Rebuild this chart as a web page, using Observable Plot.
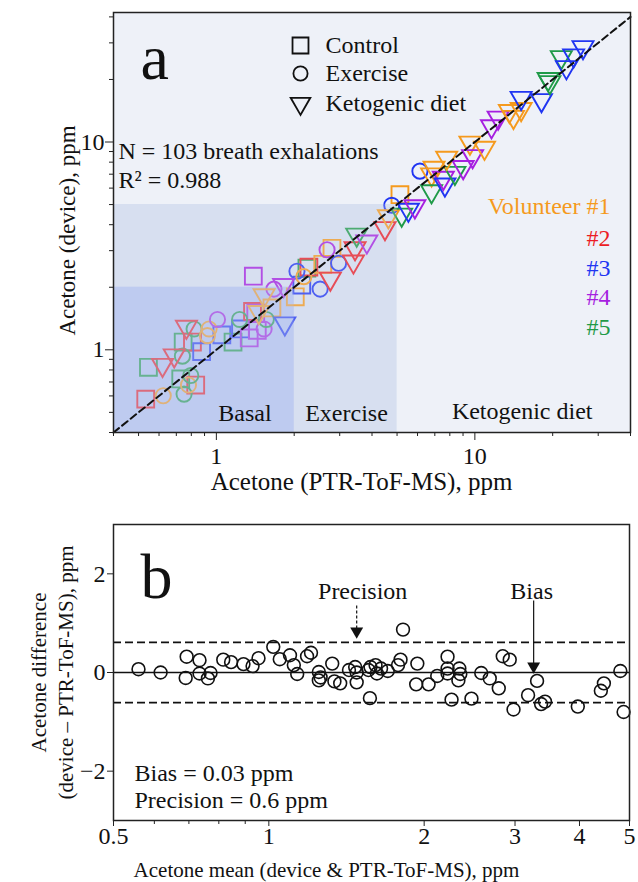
<!DOCTYPE html>
<html><head><meta charset="utf-8">
<script src="https://cdn.jsdelivr.net/npm/d3@7"></script>
<script src="https://cdn.jsdelivr.net/npm/@observablehq/plot@0.6"></script>
<style>
html,body{margin:0;padding:0;background:#fff;overflow:hidden;}
#chart{width:638px;}
#chart svg{display:block;}
</style></head><body><div id="chart"></div>
<script>
// ---------- Panel a data ----------
const volunteerLabels = ["Volunteer #1", "#2", "#3", "#4", "#5"];
const volunteerColors = ["#f59a1e", "#ec1c24", "#2035f2", "#a61fe0", "#1f9a48"];
const conditionLabels = ["Control", "Exercise", "Ketogenic diet"];
const conditionCodes = ["C", "E", "K"];
const regionNames = ["Basal", "Exercise", "Ketogenic diet"];
const regionMax = [2, 5, 40];
const regionFill = ["#b9c6f1", "#d7dff1", "#eef1f8"];

const ptrA = [0.533,0.623,0.728,0.75,0.832,0.78,0.796,0.546,0.619,0.687,0.739,0.744,0.808,0.766,0.82,0.877,0.923,0.937,1.01,1.05,
  1.16,1.23,1.24,1.34,1.38,1.42,1.44,1.53,1.56,1.46,1.53,1.67,1.64,1.39,1.82,1.84,2.02,2.05,2.18,2.14,
  2.24,2.28,2.52,2.68,2.80,2.58,2.97,2.76,3.39,3.44,3.49,3.82,4.49,4.63,4.77,5.13,5.21,5.53,5.86,6.13,
  6.80,6.95,6.80,7.55,7.66,8.37,7.78,9.01,9.57,9.80,10.9,11.6,12.3,13.6,14.1,15.1,15.1,18.1,19.5,19.2,
  21.6,22.6,24.1,26.2];
const deviceA = [0.579,0.601,0.724,0.612,0.677,0.677,0.752,0.824,0.846,0.94,0.932,1.09,1.09,1.29,1.26,0.98,1.17,1.26,1.40,1.18,
  1.09,1.40,1.26,1.14,1.53,1.50,1.24,1.26,1.40,1.52,1.83,1.96,1.59,2.26,2.05,1.34,1.80,2.39,2.25,2.05,
  2.47,2.50,1.96,3.03,3.08,2.58,2.61,2.20,2.66,3.08,3.58,3.32,3.85,4.39,4.96,5.58,4.47,4.72,4.90,7.24,
  6.98,7.51,5.79,6.72,6.24,7.10,8.40,7.57,9.93,8.55,9.38,11.9,13.1,14.1,13.2,14.4,16.3,15.9,19.4,20.1,
  25.6,22.9,26.1,28.6];
const volA = [2,1,5,5,2,1,5,5,2,2,5,5,2,2,5,3,1,1,4,3,
  5,5,3,4,2,4,4,4,5,1,1,4,1,4,4,3,1,3,1,3,
  5,2,3,4,1,1,3,2,2,2,5,4,2,1,3,1,5,3,4,3,
  1,1,5,4,3,5,1,4,1,4,1,4,4,1,1,1,3,3,5,5,
  5,3,3,3];
const condA = ["C","E","C","E","C","E","E","C","K","K","E","C","C","K","E","C","E","E","E","C",
  "C","E","C","C","C","C","C","E","E","K","K","E","C","C","K","K","C","E","E","C",
  "C","C","E","E","C","C","E","K","K","K","K","K","K","K","E","C","K","K","K","E",
  "K","K","K","K","K","K","K","K","K","K","K","K","K","K","K","K","K","K","K","K",
  "K","K","K","K"];

// ---------- Panel b data ----------
const meanB = [0.559,0.617,0.693,0.690,0.734,0.734,0.762,0.771,0.816,0.845,0.893,0.93,0.955,1.02,1.05,1.099,1.118,1.135,1.186,1.207,
  1.25,1.25,1.26,1.327,1.34,1.375,1.43,1.47,1.48,1.48,1.56,1.57,1.574,1.61,1.62,1.65,1.70,1.78,1.80,1.82,
  1.94,1.93,2.04,2.12,2.22,2.22,2.22,2.33,2.34,2.35,2.26,2.47,2.58,2.68,2.79,2.84,2.93,2.98,3.18,3.31,
  3.37,3.43,3.97,4.46,4.40,4.80,4.87];
const diffB = [0.067,0,0.32,-0.11,0.25,-0.02,-0.12,-0.01,0.26,0.21,0.17,0.13,0.29,0.52,0.27,0.35,0.15,-0.03,0.33,0.40,
  0.01,-0.16,-0.10,0.18,-0.18,-0.22,0.05,0.11,0,-0.20,0.05,-0.52,0.11,0.15,-0.02,0.08,0.03,0.15,0.26,0.87,
  0.18,-0.24,-0.24,-0.07,0.32,0.08,-0.02,-0.16,0.08,-0.03,-0.55,-0.53,-0.01,-0.12,-0.32,0.33,0.26,-0.75,-0.46,-0.17,
  -0.64,-0.59,-0.69,-0.22,-0.37,0.03,-0.80];
const levelValues = [0.61, 0, -0.61];
const levelDash = ["8,4", null, "8,4"];
const biasText = "Bias = 0.03 ppm";
const precisionText = "Precision = 0.6 ppm";
const precisionArrowX = 1.48;
const biasArrowX = 3.26;

// ---------- build ----------
const FONT = "'Liberation Serif', 'Times New Roman', serif";
const dataA = ptrA.map((x, i) => ({x, y: deviceA[i], vol: volA[i], cond: condA[i]}));
const symbolSpec = {C: {symbol: "square", r: 9.5, rotate: 0}, E: {symbol: "circle", r: 7.6, rotate: 0}, K: {symbol: "triangle", r: 7.8, rotate: 180}};

const minorA = [0.4,0.5,0.6,0.7,0.8,0.9,2,3,4,5,6,7,8,9,20,30,40];
const fmtNum = d => (d < 0 ? "\u2212" : "") + String(Math.abs(d));

const regionRects = [2, 1, 0].map(i => Plot.rect([0], {x1: 0.4, x2: regionMax[i], y1: 0.4, y2: i === 2 ? 42 : regionMax[i], fill: regionFill[i]}));
const regionOverlay = [1, 0].map(i => Plot.rect([0], {x1: 0.4, x2: regionMax[i], y1: 0.4, y2: regionMax[i], fill: regionFill[i], fillOpacity: 0.25}));
const dotMarks = conditionCodes.map(c => Plot.dot(dataA.filter(d => d.cond === c), {
  x: "x", y: "y", stroke: "vol", fill: "none", strokeWidth: 1.9,
  symbol: symbolSpec[c].symbol, r: symbolSpec[c].r, rotate: symbolSpec[c].rotate
}));
const legendDy = [33, 61, 91];
const legendMarks = conditionCodes.flatMap((c, i) => [
  Plot.dot([0], {frameAnchor: "top-left", dx: 187, dy: legendDy[i], symbol: symbolSpec[c].symbol, r: symbolSpec[c].r - 0.5, rotate: symbolSpec[c].rotate, stroke: "#111", fill: "none", strokeWidth: 1.8}),
  Plot.text([conditionLabels[i]], {frameAnchor: "top-left", dx: 212, dy: legendDy[i], text: d => d, textAnchor: "start", lineAnchor: "middle", fill: "#111"})
]);
const volDy = [201, 233, 263, 292, 322];
const volMarks = volunteerLabels.map((v, i) => Plot.text([v], {frameAnchor: "top-right", dx: -20, dy: volDy[i], text: d => d, textAnchor: "end", lineAnchor: "bottom", fill: volunteerColors[i]}));
const regionDx = [131.5, 233, 408.7];
const regionDy = [-12, -12, -14];
const regionText = regionNames.map((n, i) => Plot.text([n], {frameAnchor: "bottom-left", dx: regionDx[i], dy: regionDy[i], text: d => d, textAnchor: "middle", lineAnchor: "bottom", fill: "#111"}));

const plotA = Plot.plot({
  width: 638, height: 500,
  marginLeft: 113, marginRight: 8, marginTop: 12, marginBottom: 68,
  style: {fontFamily: FONT, fontSize: "24px", background: "#fff", overflow: "visible", color: "#111"},
  x: {type: "log", domain: [0.4, 40]},
  y: {type: "log", domain: [0.4, 42]},
  color: {domain: [1, 2, 3, 4, 5], range: volunteerColors},
  marks: [
    ...regionRects,
    ...dotMarks,
    ...regionOverlay,
    Plot.line([0.4, 40], {x: d => d, y: d => d, stroke: "#111", strokeWidth: 2, strokeDasharray: "7,4"}),
    Plot.axisX({ticks: [1, 10], tickFormat: d => String(d), tickSize: 8, tickPadding: 6, label: null, fontSize: 24, stroke: "#222"}),
    Plot.axisX({ticks: minorA, tickFormat: () => "", tickSize: 4, label: null, stroke: "#222"}),
    Plot.axisY({ticks: [1, 10], tickFormat: d => String(d), tickSize: 8, tickPadding: 1, label: null, fontSize: 24, stroke: "#222"}),
    Plot.axisY({ticks: minorA, tickFormat: () => "", tickSize: 4, label: null, stroke: "#222"}),
    Plot.frame({stroke: "#222", strokeWidth: 1.5}),
    Plot.text(["a"], {frameAnchor: "top-left", dx: 27, dy: 66, text: d => d, fontSize: 64, textAnchor: "start", lineAnchor: "bottom", fill: "#111"}),
    ...legendMarks,
    Plot.text(["N = 103 breath exhalations"], {frameAnchor: "top-left", dx: 5, dy: 146, text: d => d, textAnchor: "start", lineAnchor: "bottom", fill: "#111"}),
    Plot.text(["R\u00b2 = 0.988"], {frameAnchor: "top-left", dx: 5, dy: 175, text: d => d, textAnchor: "start", lineAnchor: "bottom", fill: "#111"}),
    ...volMarks,
    ...regionText,
    Plot.text(["Acetone (PTR-ToF-MS), ppm"], {frameAnchor: "bottom-left", dx: 248, dy: 57, text: d => d, fontSize: 25, textAnchor: "middle", lineAnchor: "bottom", fill: "#111"}),
    Plot.text(["Acetone (device), ppm"], {frameAnchor: "left", dx: -39, dy: 8, rotate: -90, text: d => d, fontSize: 23, textAnchor: "middle", lineAnchor: "bottom", fill: "#111"})
  ]
});

const dataB = meanB.map((x, i) => ({x, y: diffB[i]}));
const plotB = Plot.plot({
  width: 638, height: 382,
  marginLeft: 113, marginRight: 9, marginTop: 24, marginBottom: 62,
  style: {fontFamily: FONT, fontSize: "24px", background: "#fff", overflow: "visible", color: "#111"},
  x: {type: "log", domain: [0.5, 5]},
  y: {domain: [-3, 3]},
  marks: [
    ...levelValues.map((v, i) => Plot.ruleY([v], {stroke: "#111", strokeWidth: 1.6, strokeDasharray: levelDash[i]})),
    Plot.dot(dataB, {x: "x", y: "y", r: 6.4, stroke: "#111", fill: "none", strokeWidth: 1.6}),
    // precision arrow (dashed)
    Plot.link([0], {x1: precisionArrowX, x2: precisionArrowX, y1: 1.36, y2: 0.84, stroke: "#111", strokeWidth: 1.2, strokeDasharray: "3,2"}),
    Plot.dot([0], {x: precisionArrowX, y: 0.834, symbol: "triangle", rotate: 180, r: 4.8, fill: "#111", stroke: "none"}),
    // bias arrow (solid)
    Plot.link([0], {x1: biasArrowX, x2: biasArrowX, y1: 1.46, y2: 0.13, stroke: "#111", strokeWidth: 1.2}),
    Plot.dot([0], {x: biasArrowX, y: 0.127, symbol: "triangle", rotate: 180, r: 4.8, fill: "#111", stroke: "none"}),
    Plot.axisX({ticks: [0.5, 1, 2, 3, 4, 5], tickFormat: d => String(d), tickSize: 6, tickPadding: 0, label: null, fontSize: 24, stroke: "#222"}),
    Plot.axisX({ticks: [0.6, 0.7, 0.8, 0.9], tickFormat: () => "", tickSize: 4, label: null, stroke: "#222"}),
    Plot.axisY({ticks: [-2, 0, 2], tickFormat: fmtNum, tickSize: 6, tickPadding: 2, label: null, fontSize: 24, stroke: "#222"}),
    Plot.frame({stroke: "#222", strokeWidth: 1.5}),
    Plot.text(["b"], {frameAnchor: "top-left", dx: 27, dy: 73, text: d => d, fontSize: 64, textAnchor: "start", lineAnchor: "bottom", fill: "#111"}),
    Plot.text(["Precision"], {x: precisionArrowX, frameAnchor: "top", dx: 6, dy: 74, text: d => d, textAnchor: "middle", lineAnchor: "bottom", fill: "#111"}),
    Plot.text(["Bias"], {x: biasArrowX, frameAnchor: "top", dx: -2, dy: 74, text: d => d, textAnchor: "middle", lineAnchor: "bottom", fill: "#111"}),
    Plot.text([biasText], {frameAnchor: "bottom-left", dx: 21, dy: -40, text: d => d, textAnchor: "start", lineAnchor: "bottom", fill: "#111"}),
    Plot.text([precisionText], {frameAnchor: "bottom-left", dx: 21, dy: -13, text: d => d, textAnchor: "start", lineAnchor: "bottom", fill: "#111"}),
    Plot.text(["Acetone mean (device & PTR-ToF-MS), ppm"], {frameAnchor: "bottom-left", dx: 213, dy: 56, text: d => d, fontSize: 21, textAnchor: "middle", lineAnchor: "bottom", fill: "#111"}),
    Plot.text(["Acetone difference"], {frameAnchor: "left", dx: -68, rotate: -90, text: d => d, fontSize: 21, textAnchor: "middle", lineAnchor: "bottom", fill: "#111"}),
    Plot.text(["(device \u2013 PTR-ToF-MS), ppm"], {frameAnchor: "left", dx: -41, rotate: -90, text: d => d, fontSize: 21, textAnchor: "middle", lineAnchor: "bottom", fill: "#111"})
  ]
});

const chart = document.getElementById("chart");
chart.appendChild(plotA);
chart.appendChild(plotB);
</script>
</body></html>
